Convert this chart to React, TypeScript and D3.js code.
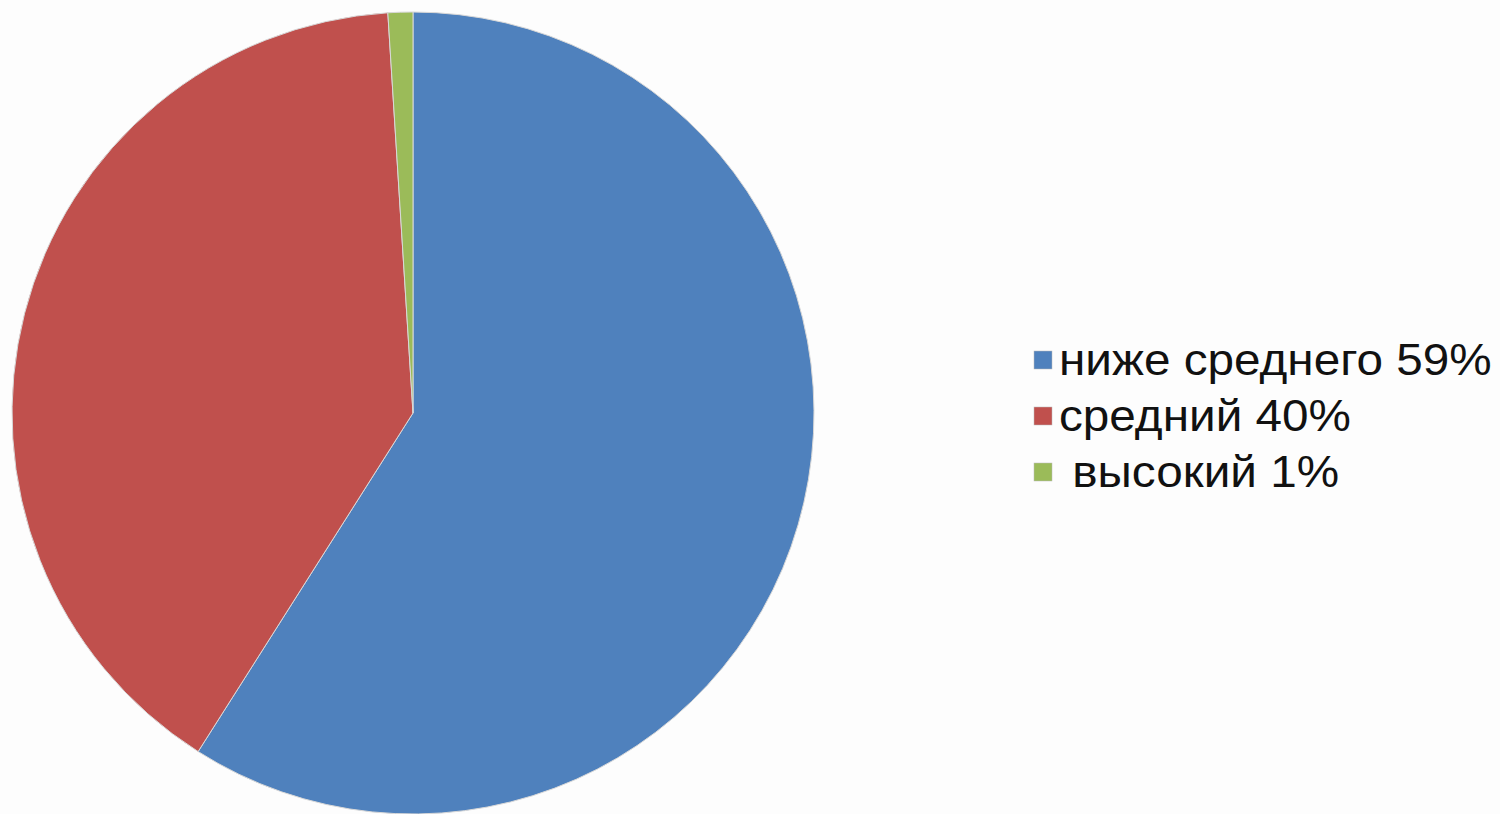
import React, { useEffect, useRef } from "react";
import { select, pie, arc, PieArcDatum } from "d3";

const categories: string[] = ["ниже среднего", "средний", "высокий"];
const values: number[] = [59, 40, 1];
const labels: string[] = ["ниже среднего 59%", "средний 40%", " высокий 1%"];
const colors: string[] = ["#4F81BD", "#C0504D", "#9BBB59"];

const WIDTH = 1500;
const HEIGHT = 814;

const App: React.FC = () => {
  const svgRef = useRef<SVGSVGElement>(null);

  useEffect(() => {
    const svg = select(svgRef.current);
    svg.selectAll("*").remove();

    const cx = 413;
    const cy = 413;
    const radius = 401;

    const slices = pie<number>()
      .sort(null)
      .value((d) => d)(values);
    const arcGen = arc<PieArcDatum<number>>().innerRadius(0).outerRadius(radius);

    svg
      .append("g")
      .attr("transform", `translate(${cx},${cy})`)
      .selectAll("path")
      .data(slices)
      .join("path")
      .attr("d", arcGen)
      .style("fill", (_, i) => colors[i])
      .style("stroke", "#d8d8d8")
      .style("stroke-width", 1);

    const legend = svg.append("g").attr("transform", "translate(1034,0)");
    const rows = legend
      .selectAll("g")
      .data(categories)
      .join("g")
      .attr("transform", (_, i) => `translate(0,${375 + i * 56})`);
    rows
      .append("rect")
      .attr("x", 0)
      .attr("y", -24)
      .attr("width", 18)
      .attr("height", 18)
      .style("fill", (_, i) => colors[i])
      .style("stroke", "#bbb")
      .style("stroke-width", 0.5);
    // the original text is a bit stretched sideways
    rows
      .append("text")
      .attr("transform", "translate(25,0) scale(1.06,1)")
      .attr("xml:space", "preserve")
      .style("white-space", "pre")
      .style("font-family", "'Liberation Sans', Arial, sans-serif")
      .style("font-size", "45px")
      .style("fill", "#111")
      .text((_, i) => labels[i]);
  }, []);

  return (
    <svg
      ref={svgRef}
      width={WIDTH}
      height={HEIGHT}
      style={{ position: "absolute", left: 0, top: 0, background: "#fdfdfd" }}
    />
  );
};

export default App;
